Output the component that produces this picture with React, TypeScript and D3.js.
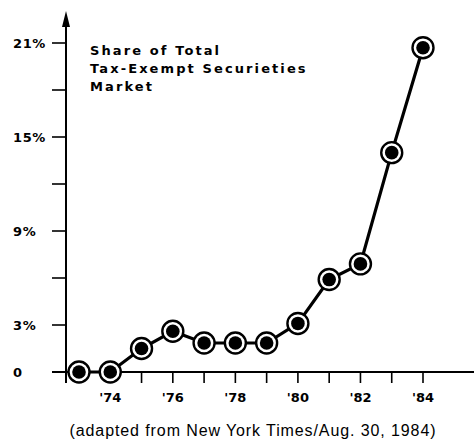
import * as d3 from "d3";

// share of total tax-exempt securities market, by year
const years = [73, 74, 75, 76, 77, 78, 79, 80, 81, 82, 83, 84];
const shares = [0, 0, 1.5, 2.6, 1.85, 1.85, 1.85, 3.1, 5.9, 6.9, 14.0, 20.7];

const yTicks = [0, 3, 6, 9, 12, 15, 18, 21];
const yTickLabels = ["0", "3%", "", "9%", "", "15%", "", "21%"];
const xLabelYears = [74, 76, 78, 80, 82, 84];

const titleLines = ["Share of Total", "Tax-Exempt Securieties", "Market"];
const caption = "(adapted from New York Times/Aug. 30, 1984)";

export default function App() {
  const W = 474;
  const H = 446;
  const axisX = 66;
  const axisY = 372;

  const x = d3.scaleLinear().domain([73, 84]).range([79, 423]);
  const y = d3.scaleLinear().domain([0, 21]).range([axisY, 43]);

  const line = d3
    .line<number>()
    .x((_, i) => x(years[i]))
    .y((d) => y(d));

  const labelFont = "'DejaVu Sans', 'Liberation Sans', sans-serif";

  return (
    <svg
      width={W}
      height={H}
      style={{ position: "absolute", left: 0, top: 0, background: "#fff" }}
    >
      {/* y axis with arrow */}
      <line x1={axisX} x2={axisX} y1={22} y2={383} stroke="#000" strokeWidth={2} />
      <path d={`M${axisX},11 L${axisX - 4},27 L${axisX + 4},27 Z`} fill="#000" />

      {/* x axis */}
      <line x1={52} x2={474} y1={axisY} y2={axisY} stroke="#000" strokeWidth={2} />

      {/* y ticks */}
      {yTicks.map((t, i) => (
        <g key={t}>
          <line x1={52} x2={axisX} y1={y(t)} y2={y(t)} stroke="#000" strokeWidth={1.6} />
          {yTickLabels[i] && (
            <text
              x={13}
              y={y(t) + 5}
              fontFamily={labelFont}
              fontWeight="bold"
              fontSize={13}
              letterSpacing={0.6}
              fill="#000"
            >
              {yTickLabels[i]}
            </text>
          )}
        </g>
      ))}

      {/* x ticks */}
      {years.map((yr) => (
        <line
          key={yr}
          x1={x(yr)}
          x2={x(yr)}
          y1={axisY}
          y2={axisY + 11}
          stroke="#000"
          strokeWidth={1.6}
        />
      ))}
      {xLabelYears.map((yr) => (
        <text
          key={yr}
          x={x(yr)}
          y={axisY + 30}
          textAnchor="middle"
          fontFamily={labelFont}
          fontWeight="bold"
          fontSize={13}
          fill="#000"
        >
          {"'" + yr}
        </text>
      ))}

      {/* series line */}
      <path d={line(shares) ?? ""} fill="none" stroke="#000" strokeWidth={3.2} />

      {/* markers: ring + filled dot */}
      {shares.map((v, i) => (
        <g key={years[i]}>
          <circle cx={x(years[i])} cy={y(v)} r={10.5} fill="#fff" stroke="#000" strokeWidth={2.4} />
          <circle cx={x(years[i])} cy={y(v)} r={6.8} fill="#000" />
        </g>
      ))}

      {/* title */}
      {titleLines.map((t, i) => (
        <text
          key={t}
          x={90}
          y={55 + i * 18}
          fontFamily={labelFont}
          fontWeight="bold"
          fontSize={13}
          letterSpacing={2.1}
          fill="#000"
        >
          {t}
        </text>
      ))}

      {/* caption */}
      <text
        x={253}
        y={436}
        textAnchor="middle"
        fontFamily="'Liberation Sans', sans-serif"
        fontSize={16}
        letterSpacing={0.9}
        fill="#000"
      >
        {caption}
      </text>
    </svg>
  );
}
